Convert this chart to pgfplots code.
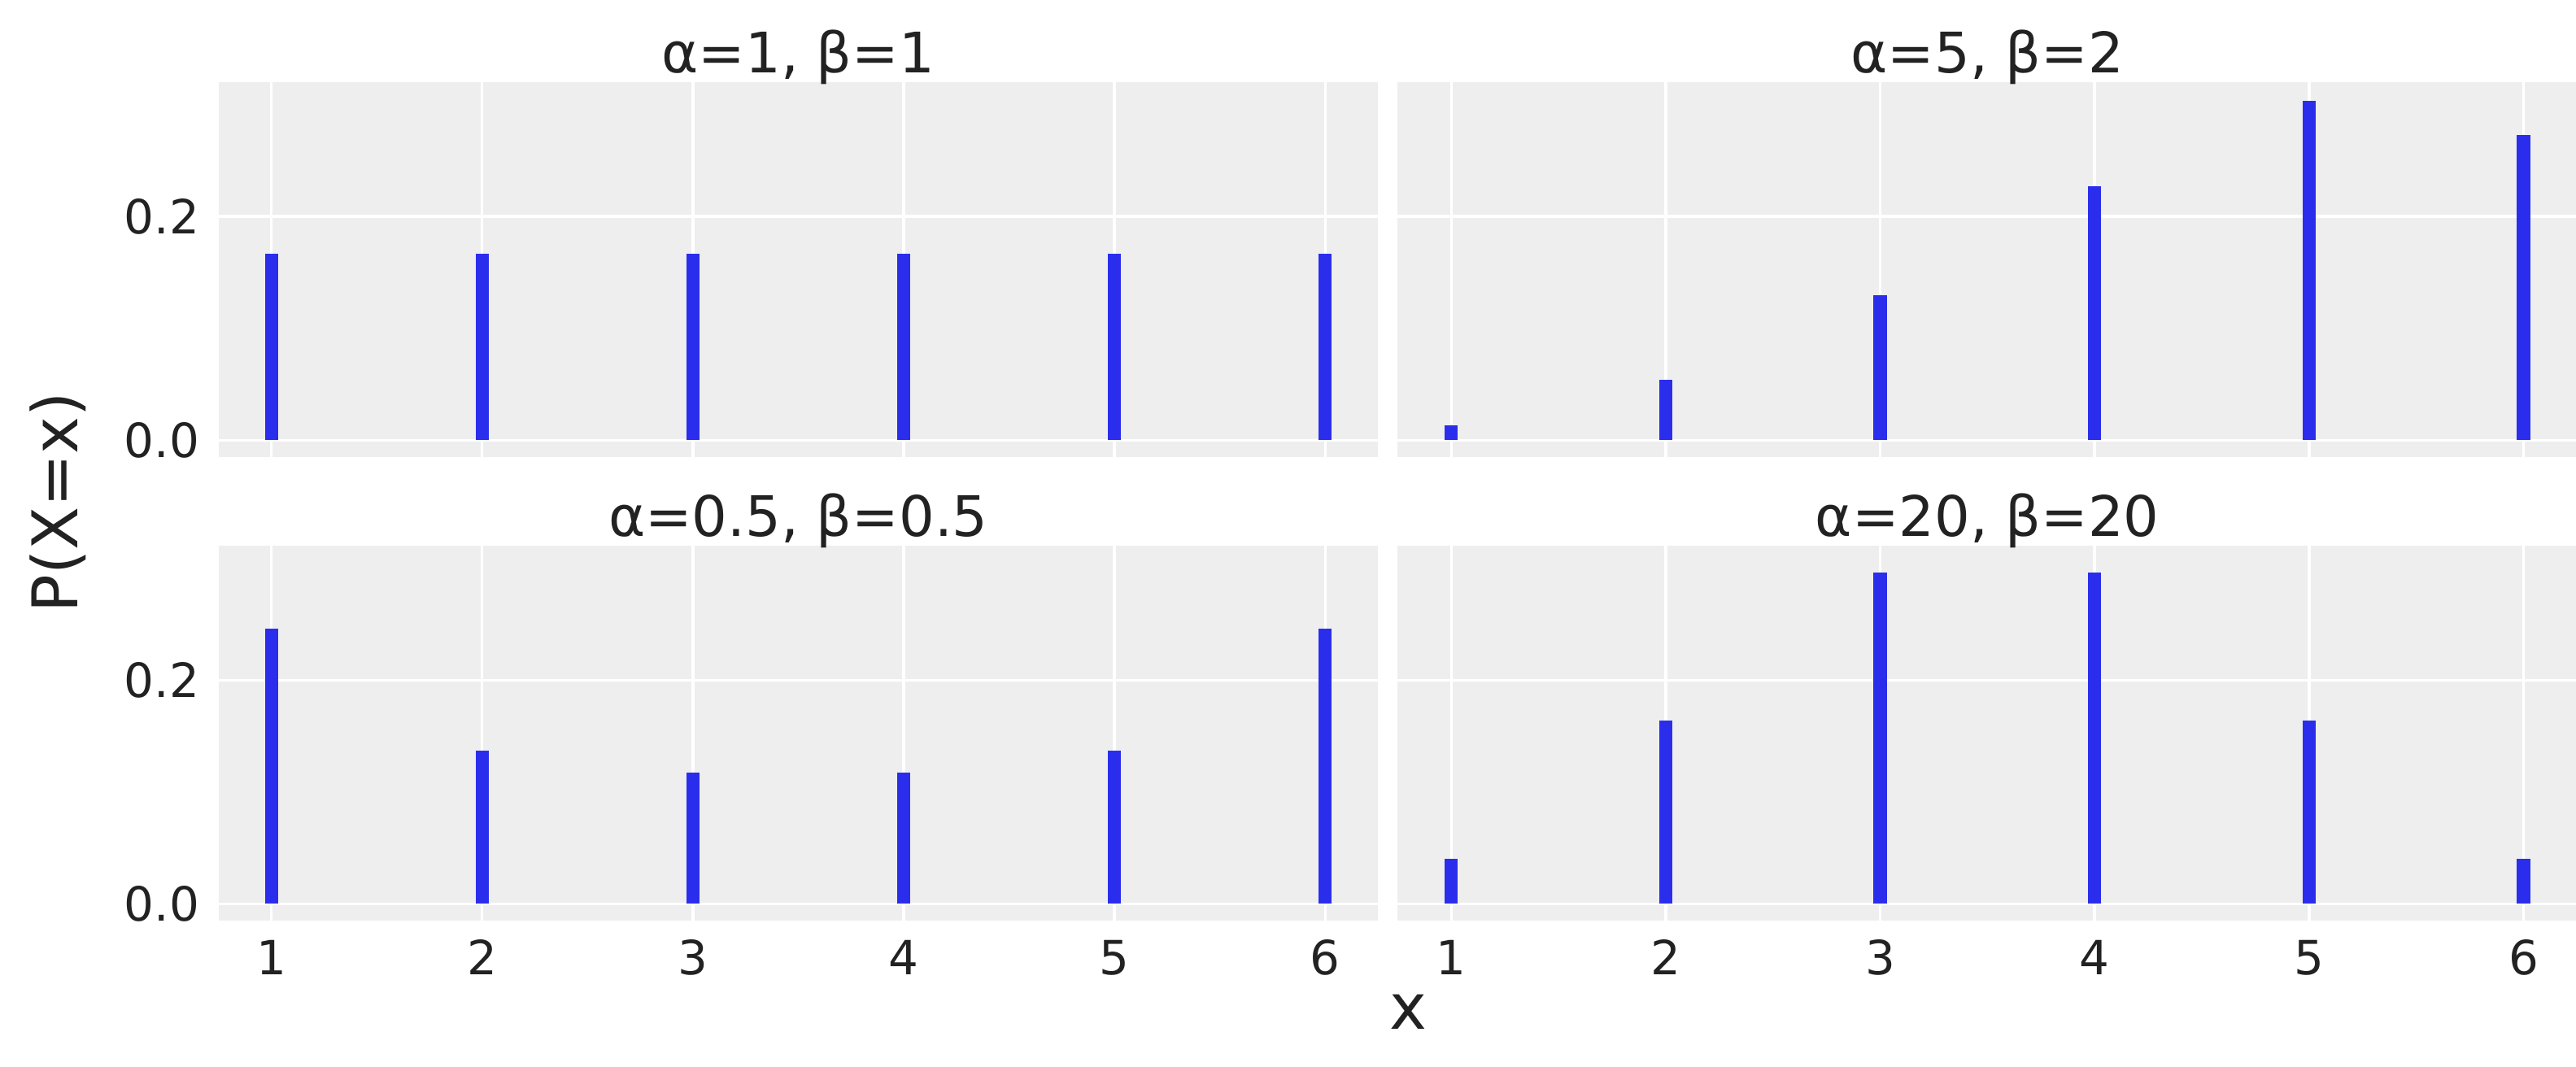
\documentclass[border=0pt]{standalone}
\usepackage{pgfplots}
\pgfplotsset{compat=1.18}
\usepackage{fontspec}
\setmainfont{DejaVu Sans}
\definecolor{bg}{HTML}{EEEEEE}
\definecolor{bar}{HTML}{2A2EEC}
\definecolor{txt}{HTML}{222222}
\pgfplotsset{
  myax/.style={
    scale only axis, width=211.5pt, height=68.4pt, anchor=south west,
    xmin=0.75, xmax=6.25, ymin=-0.015, ymax=0.32,
    axis background/.style={fill=bg}, axis line style={draw=none},
    grid=major, grid style={white, line width=0.5pt},
    major tick length=0pt, xtick={1,...,6}, ytick={0,0.2},
    yticklabel style={/pgf/number format/fixed,/pgf/number format/precision=1,/pgf/number format/fixed zerofill},
    /pgf/number format/assume math mode=true,
    ticklabel style={font=\fontsize{8.6}{10}\selectfont, text=txt},
    title style={font=\fontsize{10.2}{12}\selectfont, text=txt, yshift=-10pt},
  },
  sb/.style={ycomb, draw=bar, line width=2.4pt, mark=none}
}
\begin{document}
\begin{tikzpicture}
\path[use as bounding box] (0,0) rectangle (470pt,194.7pt);
\begin{axis}[myax, at={(39.9pt,111.3pt)}, title={α=1, β=1}, xticklabels={}]
\addplot[sb] coordinates {(1,0.1667)(2,0.1667)(3,0.1667)(4,0.1667)(5,0.1667)(6,0.1667)};
\end{axis}
\begin{axis}[myax, at={(255pt,111.3pt)}, width=215.2pt, title={α=5, β=2}, xticklabels={}, yticklabels={}]
\addplot[sb] coordinates {(1,0.013)(2,0.0541)(3,0.1299)(4,0.2273)(5,0.303)(6,0.2727)};
\end{axis}
\begin{axis}[myax, at={(39.9pt,26.7pt)}, title={α=0.5, β=0.5}]
\addplot[sb] coordinates {(1,0.246)(2,0.137)(3,0.117)(4,0.117)(5,0.137)(6,0.246)};
\end{axis}
\begin{axis}[myax, at={(255pt,26.7pt)}, width=215.2pt, title={α=20, β=20}, yticklabels={}]
\addplot[sb] coordinates {(1,0.040)(2,0.164)(3,0.296)(4,0.296)(5,0.164)(6,0.040)};
\end{axis}
\node[text=txt, font=\fontsize{11.5}{13}\selectfont] at (257pt,10pt) {x};
\node[text=txt, font=\fontsize{11.5}{13}\selectfont, rotate=90] at (10.5pt,103pt) {P(X=x)};
\end{tikzpicture}
\end{document}
